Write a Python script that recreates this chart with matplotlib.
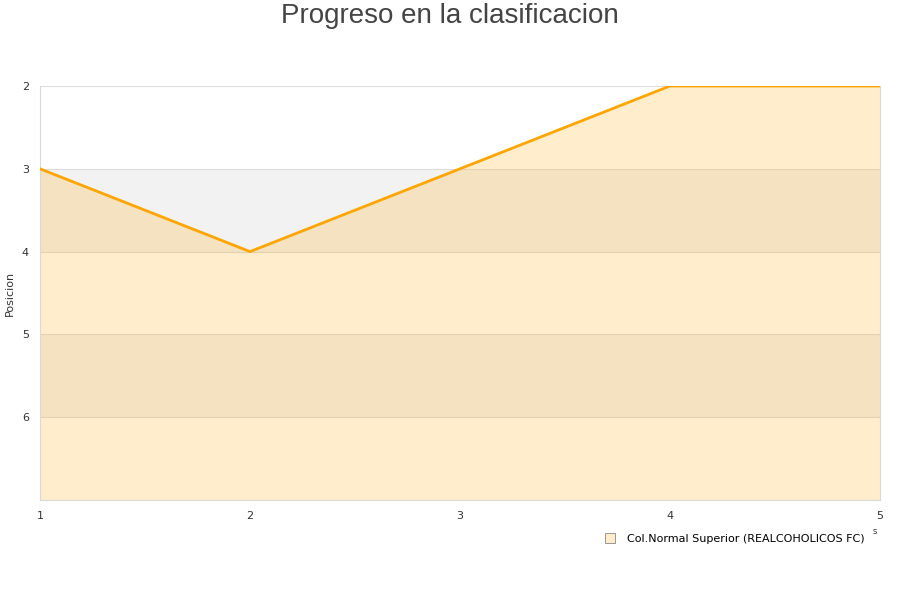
import matplotlib.pyplot as plt
from matplotlib.lines import Line2D

# Data
jornadas = [1, 2, 3, 4, 5]
posicion = [3, 4, 3, 2, 2]
y_ticks = [2, 3, 4, 5, 6]
serie = "Col.Normal Superior (REALCOHOLICOS FC)"

fig = plt.figure(figsize=(9, 6), dpi=100)
ax = fig.add_axes([40 / 900, 1 - 500 / 600, 840 / 900, 414 / 600])

ax.set_xlim(1, 5)
ax.set_ylim(7, 2)

# alternating bands
for lo in (3, 5):
    ax.axhspan(lo, lo + 1, color="#f2f2f2", zorder=0, lw=0)
for y in y_ticks + [7]:
    ax.axhline(y, color="#dddddd", lw=0.8, zorder=1)

ax.fill_between(jornadas, posicion, 7, color="#ffa500", alpha=0.2, lw=0, zorder=2)
ax.plot(jornadas, posicion, color="#ffa500", lw=2, zorder=3)

ax.set_xticks(jornadas)
ax.set_yticks(y_ticks)
ax.tick_params(length=0, labelsize=8, colors="#333333", pad=8)
for side, sp in ax.spines.items():
    sp.set_color("#d9d9d9")
    sp.set_visible(side != "top")

fig.text(10 / 900, 1 - 293 / 600, "Posicion", rotation=90, fontsize=8,
         color="#333333", ha="center", va="center")

fig.text(0.5, 1 - 16 / 600, "Progreso en la clasificacion", ha="center", va="center",
         fontsize=20, color="#444444", family="Liberation Sans")
fig.text(875 / 900, 1 - 531 / 600, "s", fontsize=6, color="#333333",
         ha="center", va="center")

handle = Line2D([], [], marker="s", ls="none", markersize=7,
                markerfacecolor="#ffedcc", markeredgecolor="#888888", markeredgewidth=0.6)
fig.legend([handle], [serie], loc="center", bbox_to_anchor=(732 / 900, 1 - 539 / 600),
           frameon=False, fontsize=8, handletextpad=0.5)

fig.savefig("out.png", dpi=100)
